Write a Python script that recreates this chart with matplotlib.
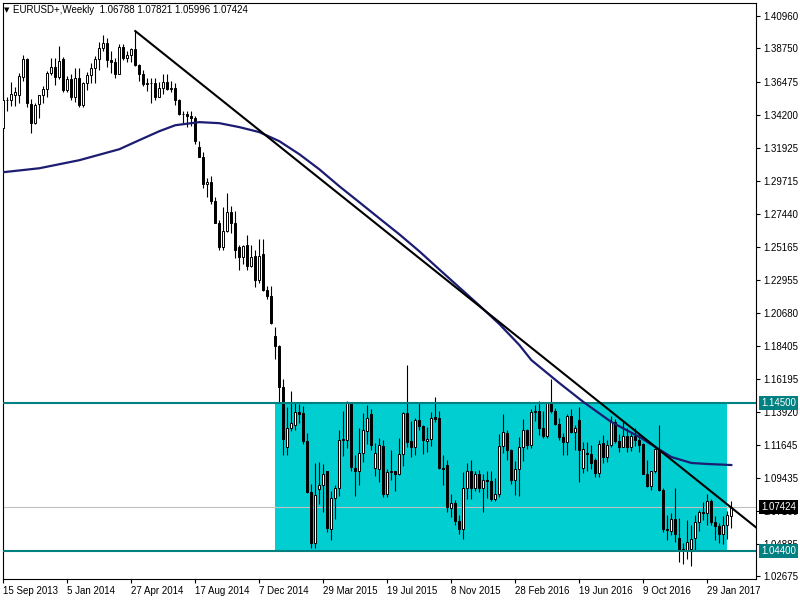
import numpy as np
import matplotlib
matplotlib.use("Agg")
import matplotlib.pyplot as plt
from matplotlib.patches import Rectangle

plt.rcParams['font.family'] = ['Liberation Sans', 'DejaVu Sans']

# %%
# weekly EURUSD candles, week of 15 Sep 2013 .. week of 12 Mar 2017

opens = [1.3330, 1.3525, 1.3520, 1.3555, 1.3555, 1.3680, 1.3805, 1.3495, 1.3365, 1.3495,
         1.3555, 1.3595, 1.3710, 1.3745, 1.3680, 1.3800, 1.3590, 1.3665, 1.3540, 1.3675,
         1.3485, 1.3635, 1.3695, 1.3740, 1.3805, 1.3875, 1.3910, 1.3795, 1.3780, 1.3700,
         1.3885, 1.3810, 1.3830, 1.3870, 1.3760, 1.3700, 1.3630, 1.3635, 1.3640, 1.3540,
         1.3605, 1.3645, 1.3600, 1.3605, 1.3525, 1.3430, 1.3425, 1.3410, 1.3400, 1.3200,
         1.3130, 1.2950, 1.2960, 1.2830, 1.2685, 1.2515, 1.2630, 1.2760, 1.2680, 1.2515,
         1.2450, 1.2530, 1.2390, 1.2460, 1.2290, 1.2470, 1.2225, 1.2185, 1.1910, 1.1840,
         1.1565, 1.1150, 1.1285, 1.1300, 1.1390, 1.1385, 1.1195, 1.0845, 1.0495, 1.0865,
         1.0890, 1.0990, 1.0595, 1.0805, 1.0875, 1.1200, 1.1200, 1.1445, 1.1010, 1.0985,
         1.1110, 1.1260, 1.1380, 1.1010, 1.1000, 1.1160, 1.0830, 1.0980, 1.0985, 1.0970,
         1.1105, 1.1385, 1.1195, 1.1150, 1.1335, 1.1295, 1.1195, 1.1210, 1.1360, 1.1350,
         1.1010, 1.1030, 1.0735, 1.0770, 1.0645, 1.0595, 1.0875, 1.0990, 1.0870, 1.0965,
         1.0870, 1.0925, 1.0920, 1.0795, 1.0830, 1.1160, 1.1250, 1.1130, 1.0930, 1.1005,
         1.1150, 1.1270, 1.1165, 1.1390, 1.1400, 1.1285, 1.1225, 1.1455, 1.1400, 1.1310,
         1.1220, 1.1185, 1.1365, 1.1255, 1.1335, 1.1010, 1.1110, 1.1105, 1.1060, 1.0975,
         1.1180, 1.1085, 1.1165, 1.1325, 1.1195, 1.1155, 1.1230, 1.1155, 1.1230, 1.1200,
         1.1170, 1.0970, 1.0885, 1.0985, 1.1140, 1.0855, 1.0590, 1.0580, 1.0660, 1.0530,
         1.0455, 1.0450, 1.0455, 1.0530, 1.0640, 1.0710, 1.0700, 1.0785, 1.0640, 1.0615,
         1.0560, 1.0620, 1.06788]
highs = [1.3569, 1.3545, 1.3646, 1.3610, 1.3705, 1.3832, 1.3810, 1.3530, 1.3500, 1.3545,
         1.3620, 1.3720, 1.3810, 1.3810, 1.3893, 1.3815, 1.3685, 1.3700, 1.3740, 1.3740,
         1.3645, 1.3715, 1.3775, 1.3825, 1.3915, 1.3967, 1.3945, 1.3855, 1.3810, 1.3905,
         1.3905, 1.3855, 1.3880, 1.3993, 1.3770, 1.3730, 1.3675, 1.3670, 1.3675, 1.3645,
         1.3700, 1.3700, 1.3650, 1.3635, 1.3530, 1.3445, 1.3445, 1.3445, 1.3410, 1.3245,
         1.3170, 1.2990, 1.3000, 1.2860, 1.2700, 1.2790, 1.2887, 1.2800, 1.2765, 1.2530,
         1.2535, 1.2600, 1.2530, 1.2500, 1.2570, 1.2570, 1.2250, 1.2250, 1.1970, 1.1850,
         1.1615, 1.1425, 1.1535, 1.1450, 1.1445, 1.1430, 1.1245, 1.0900, 1.1045, 1.1050,
         1.1035, 1.0990, 1.0850, 1.0890, 1.1265, 1.1395, 1.1465, 1.1450, 1.1100, 1.1280,
         1.1385, 1.1440, 1.1410, 1.1180, 1.1215, 1.1200, 1.1000, 1.1130, 1.0990, 1.1215,
         1.1390, 1.1714, 1.1330, 1.1350, 1.1460, 1.1300, 1.1290, 1.1390, 1.1495, 1.1395,
         1.1095, 1.1060, 1.0830, 1.0790, 1.0690, 1.0980, 1.1040, 1.1060, 1.0990, 1.0995,
         1.0970, 1.0990, 1.0990, 1.0940, 1.1240, 1.1375, 1.1265, 1.1140, 1.1055, 1.1220,
         1.1340, 1.1275, 1.1410, 1.1440, 1.1465, 1.1400, 1.1460, 1.1616, 1.1420, 1.1350,
         1.1250, 1.1375, 1.1415, 1.1300, 1.1425, 1.1185, 1.1185, 1.1165, 1.1075, 1.1200,
         1.1235, 1.1200, 1.1365, 1.1345, 1.1240, 1.1330, 1.1285, 1.1255, 1.1280, 1.1240,
         1.1180, 1.1060, 1.0990, 1.1145, 1.1300, 1.0870, 1.0690, 1.0700, 1.0875, 1.0670,
         1.0495, 1.0650, 1.0620, 1.0685, 1.0720, 1.0775, 1.0830, 1.0800, 1.0680, 1.0630,
         1.0680, 1.0715, 1.07821]
lows = [1.3310, 1.3445, 1.3480, 1.3480, 1.3500, 1.3650, 1.3475, 1.3295, 1.3360, 1.3400,
        1.3500, 1.3540, 1.3690, 1.3625, 1.3665, 1.3575, 1.3575, 1.3520, 1.3510, 1.3475,
        1.3475, 1.3590, 1.3640, 1.3640, 1.3725, 1.3860, 1.3750, 1.3705, 1.3675, 1.3700,
        1.3795, 1.3780, 1.3785, 1.3757, 1.3650, 1.3615, 1.3585, 1.3503, 1.3525, 1.3540,
        1.3565, 1.3590, 1.3575, 1.3490, 1.3420, 1.3365, 1.3335, 1.3345, 1.3225, 1.3130,
        1.2920, 1.2860, 1.2815, 1.2680, 1.2500, 1.2500, 1.2620, 1.2615, 1.2440, 1.2360,
        1.2400, 1.2360, 1.2380, 1.2245, 1.2270, 1.2220, 1.2165, 1.1995, 1.1755, 1.1460,
        1.1100, 1.1100, 1.1260, 1.1270, 1.1315, 1.1175, 1.0840, 1.0462, 1.0460, 1.0765,
        1.0710, 1.0570, 1.0520, 1.0660, 1.0815, 1.1090, 1.1145, 1.0990, 1.0820, 1.0890,
        1.1050, 1.1170, 1.1130, 1.0955, 1.0915, 1.0810, 1.0810, 1.0925, 1.0850, 1.0960,
        1.1020, 1.1155, 1.1085, 1.1100, 1.1270, 1.1105, 1.1120, 1.1160, 1.1325, 1.1005,
        1.0895, 1.0705, 1.0675, 1.0620, 1.0560, 1.0525, 1.0800, 1.0800, 1.0850, 1.0845,
        1.0710, 1.0805, 1.0780, 1.0780, 1.0810, 1.1110, 1.1065, 1.0900, 1.0825, 1.0820,
        1.1055, 1.1140, 1.1145, 1.1330, 1.1235, 1.1215, 1.1215, 1.1385, 1.1305, 1.1200,
        1.1095, 1.1095, 1.1250, 1.1130, 1.0910, 1.0975, 1.0985, 1.1000, 1.0950, 1.0950,
        1.1045, 1.1050, 1.1150, 1.1180, 1.1120, 1.1150, 1.1120, 1.1125, 1.1160, 1.1115,
        1.0965, 1.0880, 1.0855, 1.0975, 1.0850, 1.0570, 1.0520, 1.0550, 1.0505, 1.0365,
        1.0350, 1.0390, 1.0340, 1.0450, 1.0580, 1.0655, 1.0620, 1.0620, 1.0520, 1.0495,
        1.0490, 1.0525, 1.05996]
closes = [1.3525, 1.3520, 1.3560, 1.3575, 1.3685, 1.3805, 1.3500, 1.3365, 1.3490, 1.3555,
          1.3600, 1.3710, 1.3745, 1.3680, 1.3790, 1.3590, 1.3665, 1.3540, 1.3675, 1.3485,
          1.3635, 1.3695, 1.3740, 1.3805, 1.3875, 1.3910, 1.3795, 1.3780, 1.3700, 1.3885,
          1.3810, 1.3830, 1.3870, 1.3760, 1.3700, 1.3630, 1.3635, 1.3640, 1.3540, 1.3605,
          1.3645, 1.3595, 1.3605, 1.3525, 1.3430, 1.3425, 1.3410, 1.3400, 1.3240, 1.3130,
          1.2950, 1.2960, 1.2830, 1.2685, 1.2515, 1.2630, 1.2760, 1.2680, 1.2495, 1.2450,
          1.2525, 1.2390, 1.2450, 1.2290, 1.2460, 1.2225, 1.2185, 1.2000, 1.1840, 1.1565,
          1.1205, 1.1285, 1.1315, 1.1390, 1.1380, 1.1195, 1.0845, 1.0495, 1.0825, 1.0890,
          1.0970, 1.0600, 1.0805, 1.0875, 1.1200, 1.1205, 1.1450, 1.1015, 1.0985, 1.1110,
          1.1265, 1.1350, 1.1165, 1.1110, 1.1165, 1.0830, 1.0980, 1.0985, 1.0970, 1.1105,
          1.1385, 1.1185, 1.1150, 1.1335, 1.1295, 1.1200, 1.1210, 1.1350, 1.1345, 1.1010,
          1.1005, 1.0740, 1.0770, 1.0645, 1.0595, 1.0875, 1.0990, 1.0875, 1.0965, 1.0870,
          1.0925, 1.0920, 1.0795, 1.0830, 1.1160, 1.1255, 1.1130, 1.0930, 1.1005, 1.1150,
          1.1270, 1.1165, 1.1390, 1.1400, 1.1285, 1.1225, 1.1455, 1.1400, 1.1310, 1.1220,
          1.1185, 1.1365, 1.1255, 1.1285, 1.1130, 1.1135, 1.1105, 1.1040, 1.0975, 1.1175,
          1.1085, 1.1165, 1.1325, 1.1195, 1.1155, 1.1230, 1.1155, 1.1225, 1.1200, 1.1165,
          1.0970, 1.0885, 1.0985, 1.1140, 1.0855, 1.0590, 1.0585, 1.0660, 1.0560, 1.0450,
          1.0450, 1.0505, 1.0525, 1.0640, 1.0705, 1.0700, 1.0785, 1.0640, 1.0615, 1.0560,
          1.0620, 1.0685, 1.07424]

ma_idx = [0, 9, 19, 29, 34, 39, 43, 49, 54, 59, 64, 69, 74, 79, 84, 89, 94, 99, 104, 109,
          114, 119, 124, 129, 132, 139, 145, 152, 159, 163, 167, 172, 176, 182]
ma_val = [1.3029, 1.3056, 1.3111, 1.3186, 1.3248, 1.3309, 1.3350, 1.3371, 1.3364, 1.3337,
          1.3303, 1.3241, 1.3152, 1.3049, 1.2933, 1.2824, 1.2714, 1.2605, 1.2489, 1.2365,
          1.2242, 1.2119, 1.1992, 1.1849, 1.1746, 1.1589, 1.1460, 1.1323, 1.1221, 1.1152,
          1.1084, 1.1043, 1.1036, 1.1029]

# trend line anchors (bar index, price)
trend_idx = [33, 182]
trend_val = [1.3993, 1.0738]

resistance = 1.14500
support = 1.04400
box_start, box_end = 68, 181
last_price = 1.07424

price_ticks = [1.40960, 1.38750, 1.36475, 1.34200, 1.31925, 1.29715, 1.27440, 1.25165,
               1.22955, 1.20680, 1.18405, 1.16195, 1.13920, 1.11645, 1.09435, 1.07160,
               1.04885, 1.02675]
date_pos = [0, 16, 32, 48, 64, 80, 96, 112, 128, 144, 160, 176]
date_labels = ["15 Sep 2013", "5 Jan 2014", "27 Apr 2014", "17 Aug 2014", "7 Dec 2014",
               "29 Mar 2015", "19 Jul 2015", "8 Nov 2015", "28 Feb 2016", "19 Jun 2016",
               "9 Oct 2016", "29 Jan 2017"]

# %%

font_size = 7
teal = "#008080"

fig = plt.figure(figsize=(8, 6), dpi=100)
ax = fig.add_axes([3/800, 21/600, 753/800, 576/600])

idx = np.arange(len(closes))
o = np.array(opens)
h = np.array(highs)
l = np.array(lows)
c = np.array(closes)
up = c >= o

# support/resistance zone
ax.add_patch(Rectangle((box_start, support), box_end - box_start, resistance - support,
                       facecolor="#00CED1", edgecolor="none", zorder=1))
ax.axhline(last_price, color="#c0c0c0", lw=0.8, zorder=2)

# candles
ax.vlines(idx, l, h, color="black", lw=0.8, zorder=3)
body_low = np.minimum(o, c)
body_h = np.maximum(np.abs(c - o), 0.00015)
ax.bar(idx[up], body_h[up], bottom=body_low[up], width=0.55, color="white",
       edgecolor="black", linewidth=0.7, zorder=4)
ax.bar(idx[~up], body_h[~up], bottom=body_low[~up], width=0.55, color="black",
       edgecolor="black", linewidth=0.7, zorder=4)

ax.axhline(resistance, color=teal, lw=1.5, zorder=5)
ax.axhline(support, color=teal, lw=1.5, zorder=5)

ax.plot(ma_idx, ma_val, color="#1c1c72", lw=1.6, zorder=6)

# trend line as a ray to the right
slope = (trend_val[1] - trend_val[0]) / (trend_idx[1] - trend_idx[0])
ray_x = [trend_idx[0], 195]
ray_y = [trend_val[0], trend_val[0] + slope * (195 - trend_idx[0])]
ax.plot(ray_x, ray_y, color="black", lw=1.5, zorder=7)

ax.set_xlim(-0.075, 188.175)
ax.set_ylim(1.02504, 1.41848)

ax.yaxis.tick_right()
ax.set_yticks(price_ticks)
ax.set_yticklabels(["%.5f" % p for p in price_ticks])
ax.set_xticks(date_pos)
ax.set_xticklabels(date_labels, ha="left")
ax.tick_params(axis="both", direction="out", length=3, width=0.8, pad=2,
               labelsize=font_size, colors="black")
for s in ax.spines.values():
    s.set_linewidth(0.8)
    s.set_color("black")

# price labels on the right scale
for val, bg in [(resistance, teal), (last_price, "black"), (support, teal)]:
    ax.text(1 + 5/753, val, "%.5f" % val, transform=ax.get_yaxis_transform(),
            ha="left", va="center", color="white", fontsize=font_size,
            bbox=dict(boxstyle="square,pad=0.2", fc=bg, ec="none"),
            clip_on=False, zorder=20)

fig.text(4/800, 1 - 10/600, "\u25bc", fontsize=5, va="center", family="DejaVu Sans")
fig.text(13/800, 1 - 10/600, "EURUSD+,Weekly  1.06788 1.07821 1.05996 1.07424",
         fontsize=font_size, va="center")

fig.savefig("out.png", dpi=100)
